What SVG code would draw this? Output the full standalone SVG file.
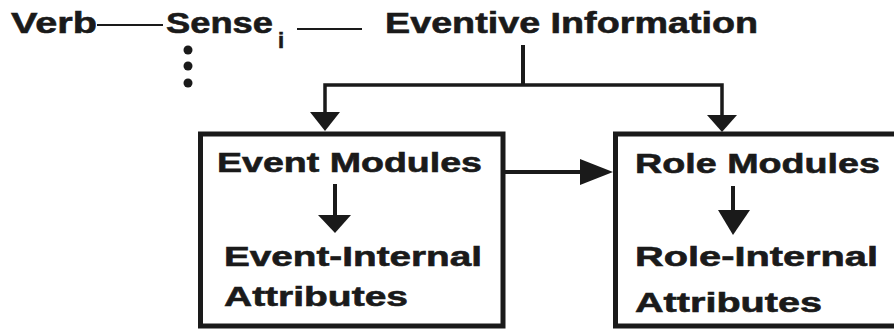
<svg xmlns="http://www.w3.org/2000/svg" width="894" height="330" viewBox="0 0 894 330">
<style>
.t{font-family:"Liberation Sans",Arial,sans-serif;font-weight:bold;fill:#1a1a1a;stroke:#1a1a1a;stroke-width:0.6}
.top{font-size:30px}
.bx{font-size:28px}
.box{fill:#fff;stroke:#1a1a1a;stroke-width:5}
.ln{stroke:#1a1a1a;fill:none}
.hd{fill:#1a1a1a}
</style>
<rect width="894" height="330" fill="#fff"/>
<g id="verb"><text class="t top" x="11" y="33" textLength="86" lengthAdjust="spacingAndGlyphs">Verb</text></g>
<g id="sense">
<text class="t top" x="166" y="33" textLength="107" lengthAdjust="spacingAndGlyphs">Sense</text>
<text class="t" x="278" y="48" font-size="22">i</text>
<circle cx="188" cy="50" r="4.5" fill="#1a1a1a"/>
<circle cx="188" cy="66" r="4.5" fill="#1a1a1a"/>
<circle cx="188" cy="83" r="4.5" fill="#1a1a1a"/>
</g>
<g id="eventive"><text class="t top" x="385" y="33" textLength="373" lengthAdjust="spacingAndGlyphs">Eventive Information</text></g>
<g id="event-box">
<rect class="box" x="200.5" y="134" width="302.5" height="192"/>
<text class="t bx" x="217" y="172" textLength="265" lengthAdjust="spacingAndGlyphs">Event Modules</text>
<line class="ln" x1="335" y1="184" x2="335" y2="218" stroke-width="4"/>
<polygon class="hd" points="318,215 351,215 335,233"/>
<text class="t bx" x="224" y="266" textLength="258" lengthAdjust="spacingAndGlyphs">Event-Internal</text>
<text class="t bx" x="224" y="306" textLength="184" lengthAdjust="spacingAndGlyphs">Attributes</text>
</g>
<g id="role-box">
<rect class="box" x="615.5" y="134" width="285" height="192"/>
<text class="t bx" x="635" y="173" textLength="245" lengthAdjust="spacingAndGlyphs">Role Modules</text>
<line class="ln" x1="733" y1="186" x2="733" y2="213" stroke-width="4"/>
<polygon class="hd" points="718,210 750,210 733,235"/>
<text class="t bx" x="635" y="266" textLength="243" lengthAdjust="spacingAndGlyphs">Role-Internal</text>
<text class="t bx" x="635" y="312" textLength="187" lengthAdjust="spacingAndGlyphs">Attributes</text>
</g>
<g id="connectors">
<line class="ln" x1="97" y1="25" x2="163" y2="25" stroke-width="2"/>
<line class="ln" x1="297" y1="29" x2="362" y2="29" stroke-width="2"/>
<line class="ln" x1="523" y1="45" x2="523" y2="86" stroke-width="4"/>
<polyline class="ln" points="325,115 325,85 722,85 722,117" stroke-width="3.5"/>
<polygon class="hd" points="310,112 340,112 325,131"/>
<polygon class="hd" points="707,115 737,115 722,132"/>
<line class="ln" x1="505" y1="172" x2="584" y2="172" stroke-width="4"/>
<polygon class="hd" points="580,159 613,172 580,185"/>
</g>
</svg>
